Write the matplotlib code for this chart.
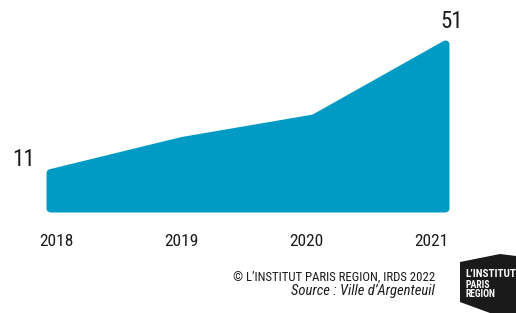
import matplotlib
matplotlib.use("Agg")
import matplotlib.pyplot as plt
from matplotlib.patches import Polygon

years = ["2018", "2019", "2020", "2021"]
values = [11, 21, 28, 51]

W, H = 516, 313
blue = "#009bc4"
ink = "#1a1a1a"

plt.rcParams["font.family"] = ["Roboto Condensed", "Liberation Sans", "DejaVu Sans"]


def fx(px):
    return px / W


def fy(py):
    return 1 - py / H


fig = plt.figure(figsize=(W / 100, H / 100), dpi=100)

# area axes (inset by the rounded stroke radius)
pad = 4
left, right, top, bottom = 46 + pad, 449 - pad, 40 + pad, 212 - pad
ax = fig.add_axes([fx(left), fy(bottom), fx(right - left), (bottom - top) / H])
x = list(range(len(values)))
ax.fill_between(x, 0, values, color=blue, edgecolor=blue,
                linewidth=2 * pad * 72 / 100, joinstyle="round", clip_on=False)
ax.set_xlim(0, len(values) - 1)
ax.set_ylim(0, max(values))
ax.axis("off")

# value labels at first and last point
fig.text(fx(24), fy(160), str(values[0]), fontsize=16.5, ha="center", va="center", color=ink)
fig.text(fx(452), fy(22), str(values[-1]), fontsize=16.5, ha="center", va="center", color=ink)

# year labels
for i, yr in enumerate(years):
    fig.text(fx(56 + 125 * i), fy(241), yr, fontsize=12.5, ha="center", va="center", color=ink)

# credits
fig.text(fx(435), fy(277), "© L’INSTITUT PARIS REGION, IRDS 2022", fontsize=9.2,
         ha="right", va="center", color=ink)
fig.text(fx(435), fy(291), "Source : Ville d’Argenteuil", fontsize=10.5, style="italic",
         ha="right", va="center", color=ink)

# logo block
logo = Polygon([(fx(460), fy(262)), (fx(500), fy(254)), (fx(516), fy(256)),
                (fx(516), fy(313)), (fx(490), fy(313)), (fx(460), fy(302))],
               closed=True, transform=fig.transFigure, facecolor=ink,
               edgecolor="none")
fig.patches.append(logo)
fig.text(fx(465), fy(274), "L’INSTITUT", fontsize=8, weight="bold", color="white",
         ha="left", va="center")
fig.text(fx(465), fy(285), "PARIS", fontsize=7, weight="bold", color="white",
         ha="left", va="center")
fig.text(fx(465), fy(294), "REGION", fontsize=7, weight="bold", color="white",
         ha="left", va="center")

fig.savefig("out.png", dpi=100)
